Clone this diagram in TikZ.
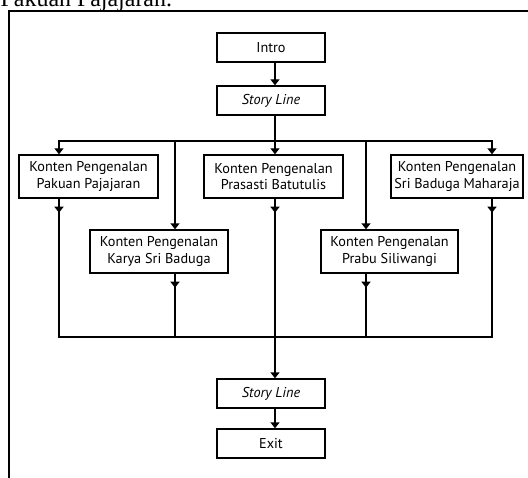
\documentclass[tikz,border=0pt]{standalone}
\usepackage{fontspec}
\setmainfont{PT Sans}
\newfontfamily\serifface{Liberation Serif}
\usetikzlibrary{arrows.meta}
\begin{document}
\begin{tikzpicture}[x=1bp,y=-1bp, line width=1.4bp,
  box/.style={draw, line width=1.4bp, rectangle, inner sep=0pt, align=center,
    font=\fontsize{14.3}{16.5}\selectfont},
  small/.style={box, minimum width=108bp, minimum height=29bp},
  big/.style={box, minimum height=43bp},
  arr/.style={-{Triangle[width=9bp,length=6bp]}},
  bus/.style={line cap=rect}]
\useasboundingbox (0,0) rectangle (528,478);
\begin{scope}
\clip (0,0) rectangle (528,478);
\node[anchor=base west, inner sep=0pt, font=\serifface\fontsize{24}{28}\selectfont] (title) at (0,6.5) {Pakuan Pajajaran.};
\draw (9,490) -- (9,11) -- (540,11);
\end{scope}

\node[small] (intro) at (271,47.5) {Intro};
\node[small] (story1) at (271,100.5) {\itshape Story Line};
\node[big, minimum width=139bp] (b1) at (88.5,176.5) {Konten Pengenalan\\Pakuan Pajajaran};
\node[big, minimum width=138bp] (b2) at (159,251.5) {Konten Pengenalan\\Karya Sri Baduga};
\node[big, minimum width=139bp] (b3) at (273.5,176.5) {Konten Pengenalan\\Prasasti Batutulis};
\node[big, minimum width=137bp] (b4) at (389.5,251.5) {Konten Pengenalan\\Prabu Siliwangi};
\node[big, minimum width=132bp] (b5) at (457,176.5) {Konten Pengenalan\\Sri Baduga Maharaja};
\node[small] (story2) at (271,393.5) {\itshape Story Line};
\node[small] (exit) at (271,443.5) {Exit};

\coordinate (t1) at (59,141);
\coordinate (t2) at (175,141);
\coordinate (t3) at (275,141);
\coordinate (t4) at (366,141);
\coordinate (t5) at (492,141);
\coordinate (u1) at (59,337);
\coordinate (u2) at (175,337);
\coordinate (u4) at (366,337);
\coordinate (u5) at (492,337);

\draw[arr] (intro.south -| t3) -- (story1.north -| t3);
\draw (story1.south -| t3) -- (t3);
\draw[bus] (t1) -- (t5);
\foreach \t/\b in {t1/b1, t2/b2, t3/b3, t4/b4, t5/b5}
  \draw[arr] (\t) -- (\b.north -| \t);

\foreach \t/\b in {t1/b1, t2/b2, t3/b3, t4/b4, t5/b5}
  \draw[arr] (\b.south -| \t) -- ++(0,14);

\draw (b1.south -| t1) -- (u1);
\draw (b2.south -| t2) -- (u2);
\draw (b4.south -| t4) -- (u4);
\draw (b5.south -| t5) -- (u5);
\draw[bus] (u1) -- (u5);
\draw[arr] (b3.south -| t3) -- (story2.north -| t3);
\draw[arr] (story2.south -| t3) -- (exit.north -| t3);
\end{tikzpicture}
\end{document}
